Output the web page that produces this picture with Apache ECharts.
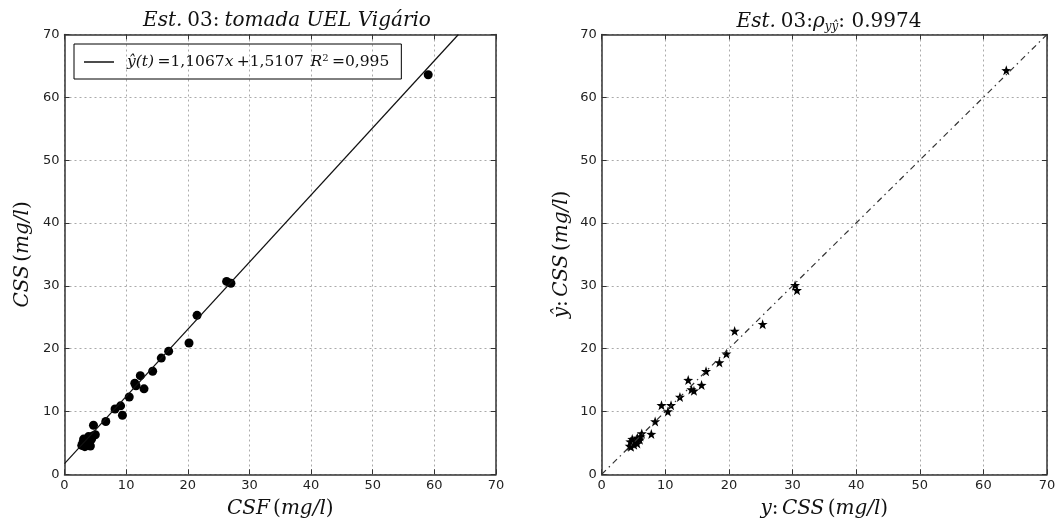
<!DOCTYPE html>
<html>
<head>
<meta charset="utf-8">
<script src="https://cdn.jsdelivr.net/npm/echarts@6/dist/echarts.min.js"></script>
<style>
  html, body { margin: 0; padding: 0; background: #fff; }
  #chart { width: 1060px; height: 527px; }
</style>
</head>
<body>
<div id="chart"></div>
<script>
// valores
const csf = [59.0, 26.3, 27.0, 21.5, 20.2, 16.9, 15.7, 14.3, 12.3, 11.4, 11.6, 12.9, 10.5, 9.1, 8.2, 9.4, 6.7, 4.7,
  2.8, 3.0, 3.3, 3.6, 4.0, 4.4, 4.6, 3.9, 3.1, 5.0, 4.2]
const css = [63.6, 30.7, 30.4, 25.3, 20.9, 19.6, 18.5, 16.4, 15.7, 14.5, 14.1, 13.6, 12.3, 10.9, 10.4, 9.4, 8.4, 7.8,
  4.6, 5.1, 4.4, 5.4, 4.8, 5.6, 6.1, 6.0, 5.6, 6.3, 4.5]
const yhat = [64.3, 29.3, 30.1, 23.9, 22.8, 19.2, 17.8, 16.4, 14.2, 13.3, 13.5, 15.0, 12.3, 11.0, 10.0, 11.0, 8.4, 6.4,
  4.4, 4.7, 4.5, 5.3, 5.6, 5.8, 6.0, 5.5, 4.9, 6.5, 5.2]
const fitLine = [[0, 1.7], [63.9, 70]]
const idLine = [[0, 0], [70, 70]]

const chart = echarts.init(document.getElementById('chart'))

const star = 'path://M0,-10 L2.35,-3.24 L9.51,-3.09 L3.8,1.24 L5.88,8.09 L0,4 L-5.88,8.09 L-3.8,1.24 L-9.51,-3.09 L-2.35,-3.24 Z'
const serif = 'DejaVu Serif'
const frame = '#333'

function makeAxis (gridIndex, position, main, name, nameGap) {
  return {
    type: 'value',
    gridIndex: gridIndex,
    position: position,
    min: 0,
    max: 70,
    interval: 10,
    name: main ? name : '',
    nameLocation: 'middle',
    nameGap: nameGap,
    nameTextStyle: { rich: nameRich },
    axisLine: { show: true, onZero: false, lineStyle: { color: frame, width: 1.5 } },
    axisTick: { show: true, inside: true, length: 5, lineStyle: { color: frame } },
    axisLabel: { show: main, fontFamily: 'DejaVu Sans', fontSize: 13, color: '#222', margin: 5 },
    splitLine: { show: main, lineStyle: { type: [2, 3], color: '#aaa' } }
  }
}

const nameRich = {
  i: { fontFamily: serif, fontStyle: 'italic', fontWeight: 'normal', fontSize: 20, color: '#111' },
  n: { fontFamily: serif, fontWeight: 'normal', fontSize: 20, color: '#111' }
}

const option = {
  animation: false,
  backgroundColor: '#fff',
  title: [
    {
      text: '{i|Est.} {n|03}{n|:} {i|tomada UEL Vigário}',
      left: 282, top: 6, textAlign: 'center',
      textStyle: { fontWeight: 'normal', rich: nameRich }
    },
    {
      text: '{i|Est.} {n|03}{n|:}{i|ρ}{s|yŷ}{n|: 0.9974}',
      left: 824, top: 6, textAlign: 'center',
      textStyle: {
        fontWeight: 'normal',
        rich: Object.assign({}, nameRich, {
          s: { fontFamily: serif, fontStyle: 'italic', fontSize: 12, color: '#111', verticalAlign: 'bottom', padding: [10, 0, 0, 0] }
        })
      }
    }
  ],
  legend: {
    data: [{ name: 'fit', icon: 'rect' }],
    left: 74, top: 44,
    orient: 'vertical',
    padding: [9, 12, 9, 10],
    itemWidth: 30, itemHeight: 1.5, itemGap: 0,
    borderColor: '#000', borderWidth: 1, borderRadius: 0,
    formatter: function () {
      return '{i|ŷ(t)} {n|=1,1067}{i|x} {n|+1,5107}  {i|R}{s|2} {n|=0,995}'
    },
    textStyle: {
      padding: [0, 0, 0, 8],
      rich: {
        i: { fontFamily: serif, fontStyle: 'italic', fontSize: 15.5, color: '#111' },
        n: { fontFamily: serif, fontSize: 15.5, color: '#111' },
        s: { fontFamily: serif, fontSize: 10, color: '#111', verticalAlign: 'top', padding: [0, 0, 8, 0] }
      }
    }
  },
  grid: [
    { left: 64.5, right: 564, top: 34.5, bottom: 52.7 },
    { left: 601.7, right: 13, top: 34.5, bottom: 52.7 }
  ],
  xAxis: [
    makeAxis(0, 'bottom', true, '{i|CSF} {n|(}{i|mg/l}{n|)}', 24),
    makeAxis(0, 'top', false),
    makeAxis(1, 'bottom', true, '{i|y}{n|:} {i|CSS} {n|(}{i|mg/l}{n|)}', 24),
    makeAxis(1, 'top', false)
  ],
  yAxis: [
    makeAxis(0, 'left', true, '{i|CSS} {n|(}{i|mg/l}{n|)}', 32),
    makeAxis(0, 'right', false),
    makeAxis(1, 'left', true, '{i|ŷ}{n|:} {i|CSS} {n|(}{i|mg/l}{n|)}', 30),
    makeAxis(1, 'right', false)
  ],
  series: [
    {
      name: 'fit',
      type: 'line',
      xAxisIndex: 0, yAxisIndex: 0,
      data: fitLine,
      symbol: 'none',
      lineStyle: { color: '#111', width: 1.2 },
      itemStyle: { color: '#111' }
    },
    {
      name: 'obs',
      type: 'scatter',
      xAxisIndex: 0, yAxisIndex: 0,
      data: csf.map((v, i) => [v, css[i]]),
      symbol: 'circle',
      symbolSize: 9,
      itemStyle: { color: '#000', opacity: 1 }
    },
    {
      name: 'ident',
      type: 'line',
      xAxisIndex: 2, yAxisIndex: 2,
      data: idLine,
      symbol: 'none',
      lineStyle: { color: '#333', width: 1.2, type: [6, 4, 1.5, 4] }
    },
    {
      name: 'pred',
      type: 'scatter',
      xAxisIndex: 2, yAxisIndex: 2,
      data: css.map((v, i) => [v, yhat[i]]),
      symbol: star,
      symbolSize: 10,
      itemStyle: { color: '#000', opacity: 1 }
    }
  ]
}
chart.setOption(option)
</script>
</body>
</html>
